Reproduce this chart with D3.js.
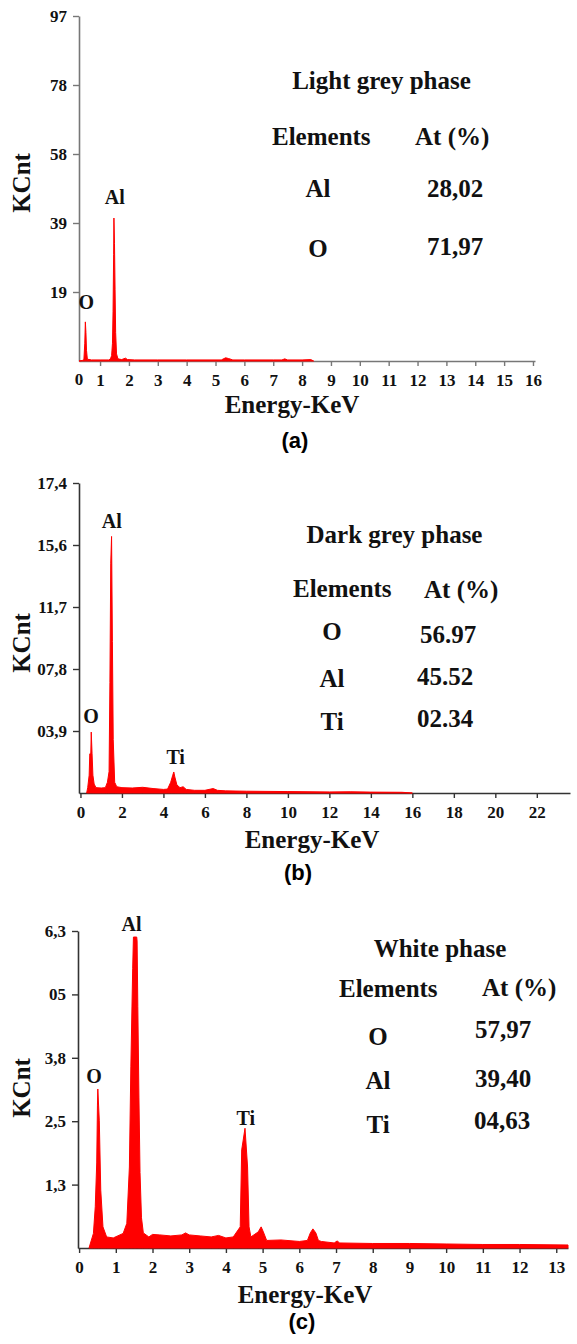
<!DOCTYPE html>
<html>
<head>
<meta charset="utf-8">
<script src="https://cdn.jsdelivr.net/npm/d3@7"></script>
<style>
  html, body { margin: 0; padding: 0; background: #fff; }
  svg { display: block; }
</style>
</head>
<body>
<svg id="chart" width="577" height="1344"></svg>
<script>
// ---------------- DATA ----------------
// Panel (a) Light grey phase
const aKeV  = [0.27,0.40,0.44,0.47,0.49,0.51,0.53,0.56,0.70,1.00,1.30,1.36,1.40,1.43,1.45,1.47,1.48,1.50,1.52,1.54,1.57,1.62,1.75,1.88,1.95,2.20,3.00,4.00,5.20,5.35,5.45,5.60,6.00,7.00,7.30,7.40,7.50,8.00,8.30,8.40];
const aKCnt = [0.0,0.2,0.4,5.0,11.0,8.0,3.0,0.5,0.3,0.3,0.3,0.6,1.5,5.0,14.0,30.0,40.2,33.0,20.0,8.0,2.0,0.6,0.4,0.8,0.4,0.3,0.3,0.3,0.3,0.9,0.7,0.3,0.3,0.3,0.3,0.6,0.3,0.3,0.4,0.0];
const aYTickValues = [19.4,38.8,58.2,77.6,97];
const aYTickLabels = ["19","39","58","78","97"];
const aXTickValues = [1,2,3,4,5,6,7,8,9,10,11,12,13,14,15,16];
const aPeakNames = ["O","Al"];
const aPeakKeV = [0.52,1.51];
const aPeakKCnt = [14.5,44.2];
const aTitle = "Light grey phase";
const aElements = ["Al","O"];
const aAtPercent = ["28,02","71,97"];

// Panel (b) Dark grey phase
const bKeV  = [0.30,0.35,0.42,0.45,0.50,0.52,0.56,0.60,0.66,0.75,1.00,1.20,1.30,1.38,1.42,1.46,1.50,1.54,1.58,1.65,1.75,2.00,2.50,3.00,3.50,4.00,4.20,4.35,4.45,4.50,4.55,4.65,4.80,4.95,5.10,5.50,6.00,6.40,6.60,7.00,8.00,10.00,12.00,13.00,14.00,15.50,16.00];
const bKCnt = [0.0,0.3,1.0,2.2,2.25,3.42,2.2,1.0,0.5,0.3,0.28,0.3,0.6,1.2,6.2,12.9,14.4,8.5,3.0,0.6,0.35,0.3,0.28,0.32,0.25,0.2,0.22,0.6,1.0,1.18,0.9,0.45,0.3,0.35,0.2,0.15,0.15,0.25,0.15,0.12,0.1,0.08,0.06,0.07,0.05,0.04,0.0];
const bYTickValues = [3.48,6.96,10.44,13.92,17.4];
const bYTickLabels = ["03,9","07,8","11,7","15,6","17,4"];
const bXTickValues = [0,2,4,6,8,10,12,14,16,18,20,22];
const bPeakNames = ["O","Al","Ti"];
const bPeakKeV = [0.51,1.51,4.59];
const bPeakKCnt = [3.95,14.9,1.6];
const bTitle = "Dark grey phase";
const bElements = ["O","Al","Ti"];
const bAtPercent = ["56.97","45.52","02.34"];

// Panel (c) White phase
const cKeV  = [0.27,0.39,0.44,0.48,0.50,0.51,0.55,0.59,0.65,0.75,0.93,1.20,1.30,1.37,1.41,1.46,1.48,1.57,1.58,1.60,1.63,1.66,1.70,1.75,1.90,2.00,2.20,2.50,2.80,2.90,3.00,3.30,3.60,3.80,4.00,4.20,4.39,4.43,4.52,4.59,4.63,4.68,4.88,4.96,5.02,5.11,5.50,6.00,6.22,6.30,6.37,6.45,6.52,6.60,6.95,7.03,7.10,8.00,9.00,10.00,11.00,12.00,13.32];
const cKCnt = [0.0,0.29,0.82,1.69,2.84,3.16,2.54,1.15,0.42,0.22,0.20,0.29,0.49,1.61,3.60,5.56,6.18,6.18,6.10,4.80,3.00,1.50,0.60,0.30,0.22,0.27,0.26,0.24,0.26,0.30,0.26,0.24,0.22,0.25,0.20,0.22,0.42,1.95,2.38,1.61,0.42,0.22,0.32,0.42,0.32,0.15,0.16,0.13,0.15,0.30,0.38,0.30,0.15,0.13,0.10,0.14,0.10,0.09,0.09,0.08,0.07,0.07,0.06];
const cYTickValues = [1.26,2.52,3.78,5.04,6.3];
const cYTickLabels = ["1,3","2,5","3,8","05","6,3"];
const cXTickValues = [0,1,2,3,4,5,6,7,8,9,10,11,12,13];
const cPeakNames = ["O","Al","Ti"];
const cPeakKeV = [0.41,1.43,4.54];
const cPeakKCnt = [3.28,6.3,2.45];
const cTitle = "White phase";
const cElements = ["O","Al","Ti"];
const cAtPercent = ["57,97","39,40","04,63"];

// ---------------- DRAW ----------------
const SERIF = "'Liberation Serif','Times New Roman',Times,serif";
const SANS = "'Liberation Sans',Arial,Helvetica,sans-serif";
const svg = d3.select("#chart");

function drawPanel(p) {
  const x = d3.scaleLinear().domain(p.xDomain).range(p.xRange);
  const y = d3.scaleLinear().domain(p.yDomain).range(p.yRange);
  const g = svg.append("g");

  // y axis
  const yAxis = g.append("g")
    .attr("transform", `translate(${p.xRange[0]},0)`)
    .call(d3.axisLeft(y).tickValues(p.yTicks).tickFormat((d, i) => p.yLabels[i]).tickSize(6).tickSizeOuter(0).tickPadding(6));
  // x axis
  const xAxis = g.append("g")
    .attr("transform", `translate(0,${p.yRange[0]})`)
    .call(d3.axisBottom(x).tickValues(p.xTicks).tickFormat(d3.format("d")).tickSize(5).tickSizeOuter(0).tickPadding(8));

  [yAxis, xAxis].forEach(a => {
    a.attr("font-family", SERIF).attr("font-size", 17).attr("font-weight", "bold");
    a.selectAll("path.domain").attr("stroke", p.axisColor).attr("stroke-width", 1.6);
    a.selectAll(".tick line").attr("stroke", p.axisColor).attr("stroke-width", 1.4);
    a.selectAll(".tick text").attr("fill", "#111");
  });

  if (p.zeroAtOrigin) {
    g.append("text").attr("x", p.xRange[0]).attr("y", p.yRange[0] + 24)
      .attr("text-anchor", "middle").attr("font-family", SERIF).attr("font-size", 17)
      .attr("font-weight", "bold").attr("fill", "#111").text("0");
  }

  // spectrum
  const pts = p.keV.map((k, i) => [k, p.kcnt[i]]);
  const area = d3.area().x(d => x(d[0])).y0(y(0)).y1(d => y(d[1]));
  g.append("path").datum(pts).attr("d", area)
    .attr("fill", "#ff0000").attr("stroke", "#ff0000").attr("stroke-width", 1).attr("stroke-linejoin", "round");

  // peak labels
  p.peakNames.forEach((n, i) => {
    g.append("text").attr("x", x(p.peakKeV[i])).attr("y", y(p.peakKCnt[i]))
      .attr("text-anchor", "middle").attr("font-family", SERIF).attr("font-size", 20)
      .attr("font-weight", "bold").attr("fill", "#111").text(n);
  });

  // y label
  g.append("text")
    .attr("transform", `translate(${p.yLabelPos[0]},${p.yLabelPos[1]}) rotate(-90)`)
    .attr("text-anchor", "middle").attr("font-family", SERIF).attr("font-size", 25)
    .attr("font-weight", "bold").attr("fill", "#111").text("KCnt");

  // x label
  g.append("text").attr("x", p.xLabelPos[0]).attr("y", p.xLabelPos[1])
    .attr("text-anchor", "middle").attr("font-family", SERIF).attr("font-size", 25)
    .attr("font-weight", "bold").attr("fill", "#111").text("Energy-KeV");

  // panel letter
  g.append("text").attr("x", p.letterPos[0]).attr("y", p.letterPos[1])
    .attr("text-anchor", "middle").attr("font-family", SANS).attr("font-size", 22)
    .attr("font-weight", "bold").attr("fill", "#000").text(p.letter);

  // table
  const t = p.table;
  const tt = g.append("g").attr("font-family", SERIF).attr("font-size", 25).attr("font-weight", "bold").attr("fill", "#111");
  tt.append("text").attr("x", t.title[0]).attr("y", t.title[1]).attr("text-anchor", "middle").text(p.title);
  tt.append("text").attr("x", t.head1[0]).attr("y", t.head1[1]).text("Elements");
  tt.append("text").attr("x", t.head2[0]).attr("y", t.head2[1]).text("At (%)");
  p.elements.forEach((e, i) => {
    tt.append("text").attr("x", t.elemX).attr("y", t.elemY[i]).attr("text-anchor", "middle").text(e);
    tt.append("text").attr("x", t.valX[i]).attr("y", t.valY[i]).text(p.at[i]);
  });
}

drawPanel({
  keV: aKeV, kcnt: aKCnt, xDomain: [0.27, 16.07], xRange: [79, 535], yDomain: [0, 97], yRange: [361, 16],
  yTicks: aYTickValues, yLabels: aYTickLabels, xTicks: aXTickValues, zeroAtOrigin: true, axisColor: "#777",
  peakNames: aPeakNames, peakKeV: aPeakKeV, peakKCnt: aPeakKCnt,
  yLabelPos: [30, 183], xLabelPos: [292, 413], letterPos: [295, 448], letter: "(a)",
  title: aTitle, elements: aElements, at: aAtPercent,
  table: { title: [381.5, 89], head1: [272, 145], head2: [415, 145], elemX: 318, elemY: [197, 257], valX: [427, 427], valY: [197, 255] }
});

drawPanel({
  keV: bKeV, kcnt: bKCnt, xDomain: [-0.07, 23.6], xRange: [79, 570], yDomain: [0, 17.4], yRange: [793, 483],
  yTicks: bYTickValues, yLabels: bYTickLabels, xTicks: bXTickValues, zeroAtOrigin: false, axisColor: "#333",
  peakNames: bPeakNames, peakKeV: bPeakKeV, peakKCnt: bPeakKCnt,
  yLabelPos: [30, 643], xLabelPos: [312, 848], letterPos: [298, 880], letter: "(b)",
  title: bTitle, elements: bElements, at: bAtPercent,
  table: { title: [394.5, 543], head1: [293, 597], head2: [424, 598], elemX: 332, elemY: [640, 687, 730], valX: [420, 417, 417], valY: [643, 685, 727] }
});

drawPanel({
  keV: cKeV, kcnt: cKCnt, xDomain: [-0.03, 13.32], xRange: [78, 568], yDomain: [0, 6.3], yRange: [1248, 931],
  yTicks: cYTickValues, yLabels: cYTickLabels, xTicks: cXTickValues, zeroAtOrigin: false, axisColor: "#333",
  peakNames: cPeakNames, peakKeV: cPeakKeV, peakKCnt: cPeakKCnt,
  yLabelPos: [30, 1088], xLabelPos: [305, 1303], letterPos: [302, 1329], letter: "(c)",
  title: cTitle, elements: cElements, at: cAtPercent,
  table: { title: [440, 957], head1: [339, 997], head2: [482, 996], elemX: 378, elemY: [1045, 1089, 1133], valX: [475, 475, 474], valY: [1038, 1087, 1129] }
});
</script>
</body>
</html>
